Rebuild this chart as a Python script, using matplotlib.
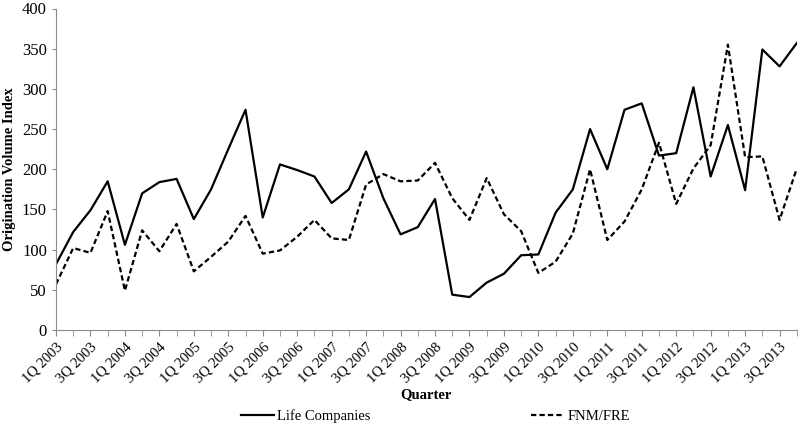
import matplotlib
matplotlib.use('Agg')
import matplotlib.pyplot as plt
import numpy as np

# quarterly origination volume index, 1Q 2003 - 4Q 2013
quarters = ['%dQ %d' % (q, y) for y in range(2003, 2014) for q in range(1, 5)]
life = [82, 122, 149, 185, 106, 170, 184, 188, 138, 175, 225, 274, 140, 206, 199, 191,
        158, 175, 222, 164, 119, 128, 163, 44, 41, 59, 70, 93, 94, 146, 175, 250,
        200, 274, 282, 217, 220, 302, 191, 255, 174, 349, 328, 357]
fnm = [57, 102, 96, 148, 49, 124, 98, 132, 73, 91, 110, 142, 95, 99, 116, 137,
       114, 112, 181, 194, 185, 186, 208, 164, 137, 189, 144, 123, 71, 85, 120, 200,
       112, 135, 175, 233, 157, 201, 230, 355, 215, 216, 137, 201]

plt.rcParams['font.family'] = ['Liberation Serif', 'DejaVu Serif']

fig = plt.figure(figsize=(8, 4.25), dpi=100)
ax = fig.add_axes([0.07, 0.2235, 0.926, 0.7565])

x = np.arange(len(quarters))
ax.plot(x, life, color='black', lw=1.6, label='Life Companies')
ax.plot(x, fnm, color='black', lw=1.6, dashes=(2.4, 1.4), label='FNM/FRE')

ax.set_xlim(0, len(quarters) - 1)
ax.set_ylim(0, 400)
ax.set_yticks(np.arange(0, 401, 50))
ax.set_xticks(x, minor=True)
ax.set_xticks(x[::2])
ax.set_xticklabels(quarters[::2], rotation=45, ha='right', rotation_mode='anchor')

for s in ['top', 'right']:
    ax.spines[s].set_visible(False)
for s in ['left', 'bottom']:
    ax.spines[s].set_color('#8c8c8c')
ax.tick_params(axis='both', which='both', colors='#8c8c8c', labelcolor='black',
               direction='out')
ax.tick_params(axis='x', which='both', length=4, labelsize=10.5)
ax.tick_params(axis='y', length=3, labelsize=12)

ax.set_ylabel('Origination Volume Index', fontsize=10.5, fontweight='bold')
ax.set_xlabel('Quarter', fontsize=10.5, fontweight='bold', labelpad=2)

ax.legend(loc='center', bbox_to_anchor=(0.544, 0.021), bbox_transform=fig.transFigure,
          ncol=2, frameon=False, fontsize=10.5, handlelength=2.3, handletextpad=0.2,
          columnspacing=11, borderpad=0)

plt.savefig('out.png', format='png')
